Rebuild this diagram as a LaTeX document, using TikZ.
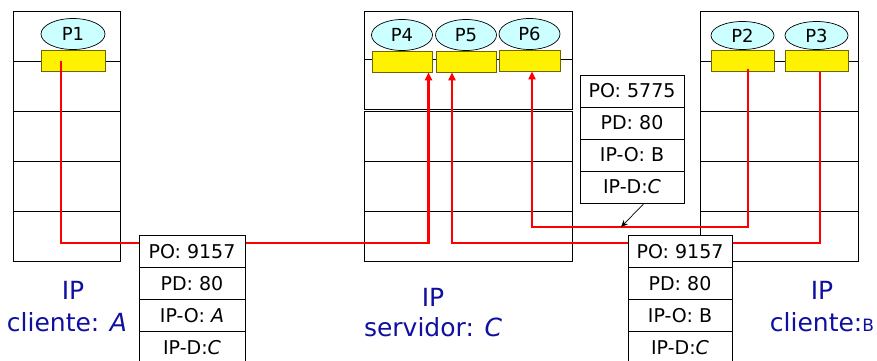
\documentclass[tikz,border=0pt]{standalone}
\usepackage{fontspec}
\setmainfont{DejaVu Sans}
\usetikzlibrary{shapes.geometric,arrows.meta}
\definecolor{procfill}{RGB}{204,255,255}
\definecolor{sockline}{RGB}{110,100,0}
\definecolor{lblblue}{RGB}{16,16,160}
\tikzset{
  host/.style={draw=black, line width=1pt},
  proc/.style={ellipse, draw=black, fill=procfill, line width=0.7pt, inner sep=0pt,
    minimum width=#1, minimum height=31pt, font=\fontsize{18}{18}\selectfont},
  proc/.default=63pt,
  sock/.style={rectangle, draw=sockline, fill=yellow, line width=0.8pt, inner sep=0pt,
    minimum width=#1, minimum height=21pt},
  sock/.default=63pt,
  pkt/.style={rectangle, draw=black, fill=white, line width=0.9pt, inner sep=0pt,
    minimum width=#1, minimum height=32pt, font=\fontsize{19}{19}\selectfont},
  pkt/.default=106pt,
  flow/.style={draw=red, line width=2.2pt},
  tip/.style={-{Triangle[length=8pt,width=7pt]}},
  lbl/.style={text=lblblue, inner sep=0pt, font=\fontsize{25}{25}\selectfont},
}
\begin{document}
\begin{tikzpicture}[x=1pt,y=-1pt]
\useasboundingbox (0,0) rectangle (877,360);
\clip (0,0) rectangle (877,360);
% host A
\draw[host] (13,11) rectangle (120,261);
\foreach \yy in {61,111,161,211} \draw[host] (13,\yy) -- (120,\yy);
% server C
\draw[host] (364,11) rectangle (572,109);
\draw[host] (364,59) -- (572,59);
\draw[host] (364,111) rectangle (572,261);
\foreach \yy in {161,211} \draw[host] (364,\yy) -- (572,\yy);
% host B
\draw[host] (700,11) rectangle (858,261);
\foreach \yy in {61,111,161,211} \draw[host] (700,\yy) -- (858,\yy);

% processes and sockets
\node[proc=64pt] (P1) at (73,34) {P1};
\node[sock=64pt] (sA) at (73,61) {};
\node[proc=61pt] (P4) at (402,35) {P4};
\node[sock=60pt] (s4) at (402,61.5) {};
\node[proc=61pt] (P5) at (466,35) {P5};
\node[sock=60pt] (s5) at (466,61.5) {};
\node[proc=61pt] (P6) at (529.5,34) {P6};
\node[sock=61pt] (s6) at (529.5,60.5) {};
\node[proc=63pt, minimum height=28pt] (P2) at (742.5,35.5) {P2};
\node[sock=63pt] (s2) at (742.5,61) {};
\node[proc=63pt, minimum height=28pt] (P3) at (816.5,35.5) {P3};
\node[sock=63pt] (s3) at (816.5,61) {};

% bus levels
\coordinate (busA) at (0,243);
\coordinate (busB) at (0,227);

% flows
\draw[flow,tip] ([xshift=-12pt]sA.center) |- ([xshift=26.5pt]s4.south |- busA) -- ([xshift=26.5pt]s4.south);
\draw[flow,tip] ([xshift=3.5pt]s3.south) |- ([xshift=-14pt]s5.south |- busA) -- ([xshift=-14pt]s5.south);
\draw[flow,tip] ([xshift=5.5pt,yshift=3pt]s2.south) |- ([xshift=2.5pt]s6.south |- busB) -- ([xshift=2.5pt]s6.south);

% packets
\node[pkt] (pA1) at (192,251.5) {PO: 9157};
\node[pkt] (pA2) at (192,283.5) {PD: 80};
\node[pkt] (pA3) at (192,315.5) {IP-O: \textit{A}};
\node[pkt] (pA4) at (192,347.5) {IP-D:\textit{C}};

\node[pkt=104pt] (pS1) at (632,91) {PO: 5775};
\node[pkt=104pt] (pS2) at (632,123) {PD: 80};
\node[pkt=104pt] (pS3) at (632,155) {IP-O: B};
\node[pkt=104pt] (pS4) at (632,187) {IP-D:\textit{C}};

\node[pkt=104pt] (pB1) at (680,251.5) {PO: 9157};
\node[pkt=104pt] (pB2) at (680,283.5) {PD: 80};
\node[pkt=104pt] (pB3) at (680,315.5) {IP-O: B};
\node[pkt=104pt] (pB4) at (680,347.5) {IP-D:\textit{C}};

% pointer to flow
\coordinate (onflow) at (621,227);
\draw[line width=0.7pt,-{Stealth[length=7pt,width=6pt]}] ([xshift=12pt]pS4.south) -- (onflow);

% labels
\node[lbl] (ipA) at (73,290) {IP};
\node[lbl] (clA) at (67,322) {cliente: \textit{A}};
\node[lbl] (ipC) at (433,297) {IP};
\node[lbl] (svC) at (433,327) {servidor: \textit{C}};
\node[lbl] (ipB) at (822,290) {IP};
\node[lbl] (clB) at (822,322) {cliente:{\fontsize{17}{17}\selectfont B}};
\end{tikzpicture}
\end{document}
